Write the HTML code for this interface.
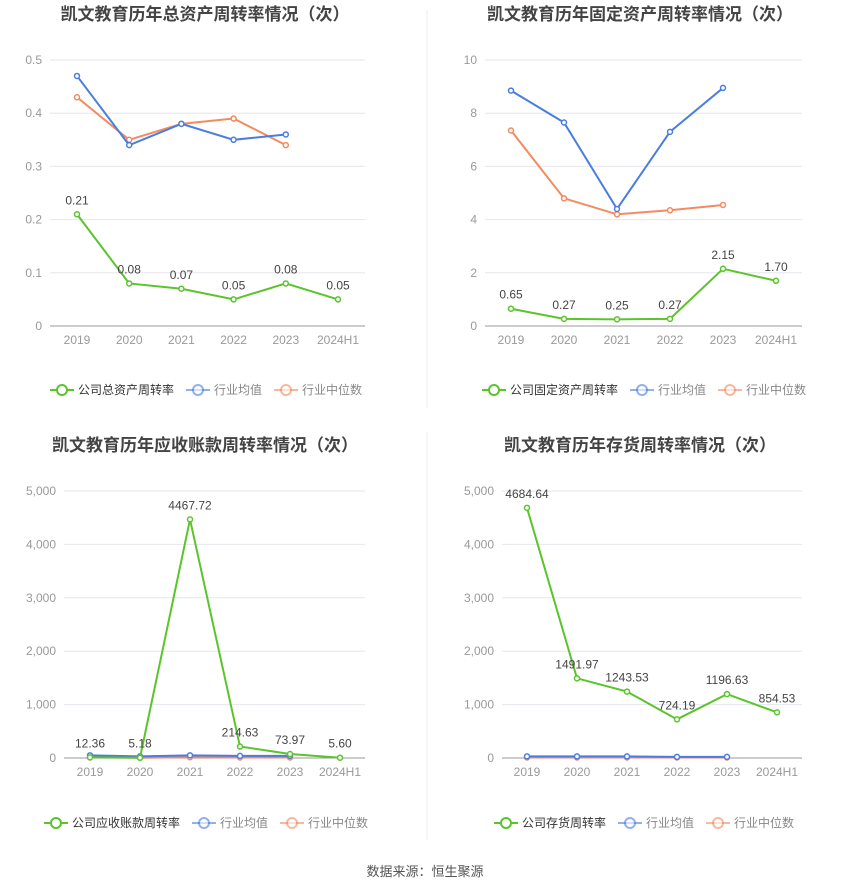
<!DOCTYPE html>
<html><head><meta charset="utf-8">
<style>
body{margin:0;background:#fff;width:850px;height:891px;overflow:hidden;font-family:"Liberation Sans","Noto Sans CJK SC",sans-serif;}
svg{position:absolute;left:0;top:0}
</style></head>
<body>
<svg id="c" width="850" height="891"></svg>
<script>
const years=["2019","2020","2021","2022","2023","2024H1"];
const taCompany=[0.21,0.08,0.07,0.05,0.08,0.05];
const taAvg=[0.47,0.34,0.38,0.35,0.36];
const taMed=[0.43,0.35,0.38,0.39,0.34];
const taTicks=[0,0.1,0.2,0.3,0.4,0.5];
const taLabels=["0.21","0.08","0.07","0.05","0.08","0.05"];
const faCompany=[0.65,0.27,0.25,0.27,2.15,1.70];
const faAvg=[8.85,7.65,4.4,7.3,8.95];
const faMed=[7.35,4.8,4.2,4.35,4.55];
const faTicks=[0,2,4,6,8,10];
const faLabels=["0.65","0.27","0.25","0.27","2.15","1.70"];
const arCompany=[12.36,5.18,4467.72,214.63,73.97,5.60];
const arAvg=[50,30,50,40,40];
const arMed=[10,5,15,10,10];
const arTicks=[0,1000,2000,3000,4000,5000];
const arLabels=["12.36","5.18","4467.72","214.63","73.97","5.60"];
const invCompany=[4684.64,1491.97,1243.53,724.19,1196.63,854.53];
const invAvg=[30,30,30,20,20];
const invMed=[10,10,10,10,10];
const invTicks=[0,1000,2000,3000,4000,5000];
const invLabels=["4684.64","1491.97","1243.53","724.19","1196.63","854.53"];

const NS="http://www.w3.org/2000/svg";
const svg=document.getElementById('c');
function mk(t,a,p){const e=document.createElementNS(NS,t);for(const k in a)e.setAttribute(k,a[k]);(p||svg).appendChild(e);return e;}
const G="#5ac42b",B="#4a7de0",O="#f5895f";
function panel(o){
  const g=mk('g',{});
  
  
  const t=mk('text',{x:o.cx,y:o.ty,'text-anchor':'middle','font-size':17,'font-weight':'bold',fill:'#444'},g);t.textContent=o.title;
  
  const max=o.ticks[o.ticks.length-1];
  const y=v=>o.y0-(v/max)*(o.y0-o.y1);
  const x=i=>o.x0+i*o.dx;
  o.ticks.forEach(tv=>{
    const yy=y(tv);
    const l=mk('line',{x1:o.gl,x2:o.gr,y1:yy,y2:yy,stroke:tv===0?'#999':'#e6e6ee','stroke-width':1},g);
    
    const tl=mk('text',{x:o.gl-8,y:yy+4,'text-anchor':'end','font-size':12,fill:'#999'},g);
    tl.textContent=o.dec?tv.toString():tv.toLocaleString('en-US');
    
  });
  years.forEach((yr,i)=>{
    const tl=mk('text',{x:x(i),y:o.y0+18,'text-anchor':'middle','font-size':12,fill:'#999'},g);tl.textContent=yr;
    
  });
  [[o.med,O,'industry-median-line'],[o.avg,B,'industry-average-line'],[o.comp,G,'company-line']].forEach(([arr,col,nm])=>{
    const pl=mk('polyline',{points:arr.map((v,i)=>x(i)+','+y(v)).join(' '),fill:'none',stroke:col,'stroke-width':2},g);
    
    arr.forEach((v,i)=>{const c=mk('circle',{cx:x(i),cy:y(v),r:2.5,fill:'#fff',stroke:col,'stroke-width':1.5},g);
      });
  });
  o.comp.forEach((v,i)=>{
    const tl=mk('text',{x:x(i),y:y(v)-10,'text-anchor':'middle','font-size':12,fill:'#444'},g);tl.textContent=o.labels[i];
    
  });
  const items=[[o.legend,G,'#333'],['行业均值',B,'#888'],['行业中位数',O,'#888']];
  let lx=o.lx;
  items.forEach(([txt,col,tc],k)=>{
    const lg=mk('g',{},g);
    const a=k?0.6:1;
    mk('line',{x1:lx,x2:lx+24,y1:o.ly,y2:o.ly,stroke:col,'stroke-width':2,opacity:a},lg);
    mk('circle',{cx:lx+12,cy:o.ly,r:5,fill:'#fff',stroke:col,'stroke-width':2,opacity:a},lg);
    const tt=mk('text',{x:lx+28,y:o.ly+4,'font-size':12,fill:tc},lg);tt.textContent=txt;
    lx+=28+txt.length*12+12;
  });
}
panel({name:'total-asset-turnover-chart',title:'凯文教育历年总资产周转率情况（次）',cx:205,ty:20,gl:50,gr:365,y0:326,y1:60,x0:77,dx:52.2,ticks:taTicks,dec:true,comp:taCompany,avg:taAvg,med:taMed,labels:taLabels,legend:'公司总资产周转率',lx:50,ly:390});
panel({name:'fixed-asset-turnover-chart',title:'凯文教育历年固定资产周转率情况（次）',cx:640,ty:20,gl:485,gr:802,y0:326,y1:60,x0:511,dx:53,ticks:faTicks,dec:true,comp:faCompany,avg:faAvg,med:faMed,labels:faLabels,legend:'公司固定资产周转率',lx:482,ly:390});
panel({name:'receivables-turnover-chart',title:'凯文教育历年应收账款周转率情况（次）',cx:205,ty:451,gl:64,gr:365,y0:758,y1:491,x0:90,dx:50,ticks:arTicks,dec:false,comp:arCompany,avg:arAvg,med:arMed,labels:arLabels,legend:'公司应收账款周转率',lx:44,ly:823});
panel({name:'inventory-turnover-chart',title:'凯文教育历年存货周转率情况（次）',cx:640,ty:451,gl:502,gr:802,y0:758,y1:491,x0:527,dx:50,ticks:invTicks,dec:false,comp:invCompany,avg:invAvg,med:invMed,labels:invLabels,legend:'公司存货周转率',lx:494,ly:823});
mk('line',{x1:427,x2:427,y1:10,y2:408,stroke:'#eee'});
mk('line',{x1:427,x2:427,y1:432,y2:840,stroke:'#eee'});
const src=mk('text',{x:425,y:876,'text-anchor':'middle','font-size':13,fill:'#555'});src.textContent='数据来源：恒生聚源';

</script>
</body></html>
